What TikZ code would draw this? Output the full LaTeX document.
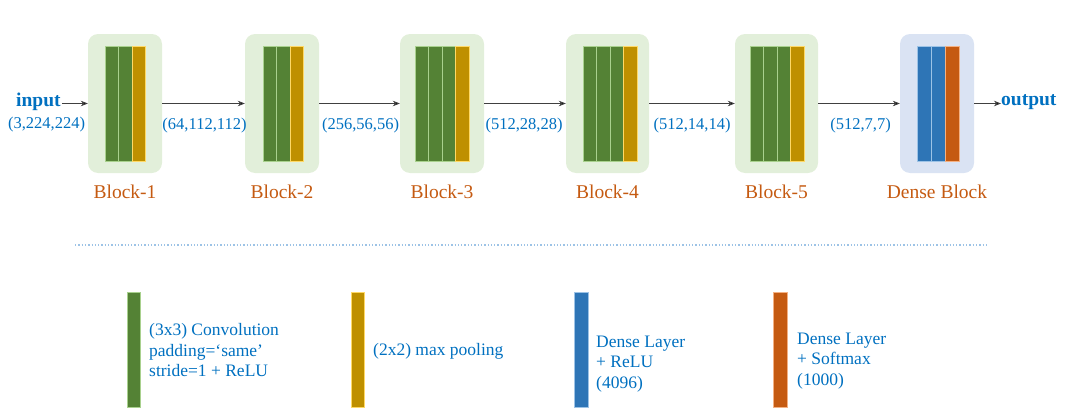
\documentclass[tikz,border=0pt]{standalone}
\usepackage{fontspec}
\setmainfont{Liberation Serif}
\usetikzlibrary{arrows.meta}
\definecolor{cgreen}{HTML}{548235}
\definecolor{cgreenb}{HTML}{A9D18E}
\definecolor{cyellow}{HTML}{BF9000}
\definecolor{cyellowb}{HTML}{FFD966}
\definecolor{cblue}{HTML}{2E75B6}
\definecolor{cblueb}{HTML}{9DC3E6}
\definecolor{corange}{HTML}{C55A11}
\definecolor{corangeb}{HTML}{F4B183}
\definecolor{bggreen}{HTML}{E2EFDA}
\definecolor{bgblue}{HTML}{DAE3F3}
\definecolor{txtblue}{HTML}{0070C0}
\definecolor{lblorange}{HTML}{C55A11}
\definecolor{dotblue}{HTML}{9DC3E6}
\begin{document}
\begin{tikzpicture}[x=1pt,y=-1pt,
  blockbg/.style={rectangle,rounded corners=10pt,fill=bggreen,draw=none,minimum height=139pt,inner sep=0pt},
  densebg/.style={blockbg,fill=bgblue},
  gbar/.style={fill=cgreen,draw=cgreenb,line width=1pt},
  ybar/.style={fill=cyellow,draw=cyellowb,line width=1pt},
  bbar/.style={fill=cblue,draw=cblueb,line width=1pt},
  obar/.style={fill=corange,draw=corangeb,line width=1pt},
  dimlbl/.style={text=txtblue,font=\fontsize{16.5}{20}\selectfont,inner sep=0pt},
  blklbl/.style={text=lblorange,font=\fontsize{19.5}{23}\selectfont,inner sep=0pt},
  iolbl/.style={text=txtblue,font=\fontsize{19.5}{23}\selectfont\bfseries,inner sep=0pt},
  legtxt/.style={text=txtblue,font=\fontsize{17.5}{20.5}\selectfont,align=left,inner sep=0pt,anchor=west},
  flow/.style={draw=black!75,line width=0.8pt,-{Stealth[length=7pt,width=5.5pt,fill=black]}}
]
\useasboundingbox (0,0) rectangle (1065,415);
% block backgrounds
\node[blockbg,minimum width=74pt] (b1) at (125,103.5) {};
\node[blockbg,minimum width=74pt] (b2) at (282,103.5) {};
\node[blockbg,minimum width=84pt] (b3) at (442,103.5) {};
\node[blockbg,minimum width=83pt] (b4) at (607.5,103.5) {};
\node[blockbg,minimum width=83pt] (b5) at (776.5,103.5) {};
\node[densebg,minimum width=74pt] (b6) at (937,103.5) {};
% bars
\def\bw{13.5}
\foreach \x in {105,118.5} \draw[gbar] (\x,46) rectangle ++(\bw,115);
\draw[ybar] (132,46) rectangle ++(\bw,115);
\foreach \x in {263,276.5} \draw[gbar] (\x,46) rectangle ++(\bw,115);
\draw[ybar] (290,46) rectangle ++(\bw,115);
\foreach \x in {415,428.5,442} \draw[gbar] (\x,46) rectangle ++(\bw,115);
\draw[ybar] (455.5,46) rectangle ++(\bw,115);
\foreach \x in {583,596.5,610} \draw[gbar] (\x,46) rectangle ++(\bw,115);
\draw[ybar] (623.5,46) rectangle ++(\bw,115);
\foreach \x in {750,763.5,777} \draw[gbar] (\x,46) rectangle ++(\bw,115);
\draw[ybar] (790.5,46) rectangle ++(\bw,115);
\foreach \x in {917,931} \draw[bbar] (\x,46) rectangle ++(14,115);
\draw[obar] (945,46) rectangle ++(14,115);
% block labels
\node[blklbl] (l1) at (125,192) {Block-1};
\node[blklbl] (l2) at (282,192) {Block-2};
\node[blklbl] (l3) at (442,192) {Block-3};
\node[blklbl] (l4) at (607.5,192) {Block-4};
\node[blklbl] (l5) at (776.5,192) {Block-5};
\node[blklbl] (l6) at (937,192) {Dense Block};
% input / output
\node[iolbl,anchor=west] (in) at (16,102) {input};
\node[iolbl,anchor=west] (out) at (1001,102) {output};
\draw[flow] ([xshift=1pt]in.east |- b1.west) -- (b1.west);
\draw[flow] (b1.east) -- (b2.west);
\draw[flow] (b2.east) -- (b3.west);
\draw[flow] (b3.east) -- (b4.west);
\draw[flow] (b4.east) -- (b5.west);
\draw[flow] (b5.east) -- (b6.west);
\draw[flow] (b6.east) -- (out.west |- b6.east);
% dims
\node[dimlbl] (d0) at (46.5,125) {(3,224,224)};
\node[dimlbl] (d1) at (204.5,126) {(64,112,112)};
\node[dimlbl] (d2) at (360.5,126) {(256,56,56)};
\node[dimlbl] (d3) at (524,126) {(512,28,28)};
\node[dimlbl] (d4) at (692,126) {(512,14,14)};
\node[dimlbl] (d5) at (860.5,126) {(512,7,7)};
% separator
\draw[dotblue,dotted,line width=1.3pt] (75,245) -- (986,245);
% legend
\draw[gbar] (127,292) rectangle (140.5,407);
\draw[ybar] (351,292) rectangle (364.5,407);
\draw[bbar] (574.5,292) rectangle (588,407);
\draw[obar] (773.5,292) rectangle (787,407);
\node[legtxt] (t1) at (149,350.5) {(3x3) Convolution\\padding=‘same’\\stride=1 + ReLU};
\node[legtxt] (t2) at (373,351) {(2x2) max pooling};
\node[legtxt] (t3) at (596,364) {Dense Layer\\+ ReLU\\(4096)};
\node[legtxt] (t4) at (797,361) {Dense Layer\\+ Softmax\\(1000)};
\end{tikzpicture}
\end{document}
